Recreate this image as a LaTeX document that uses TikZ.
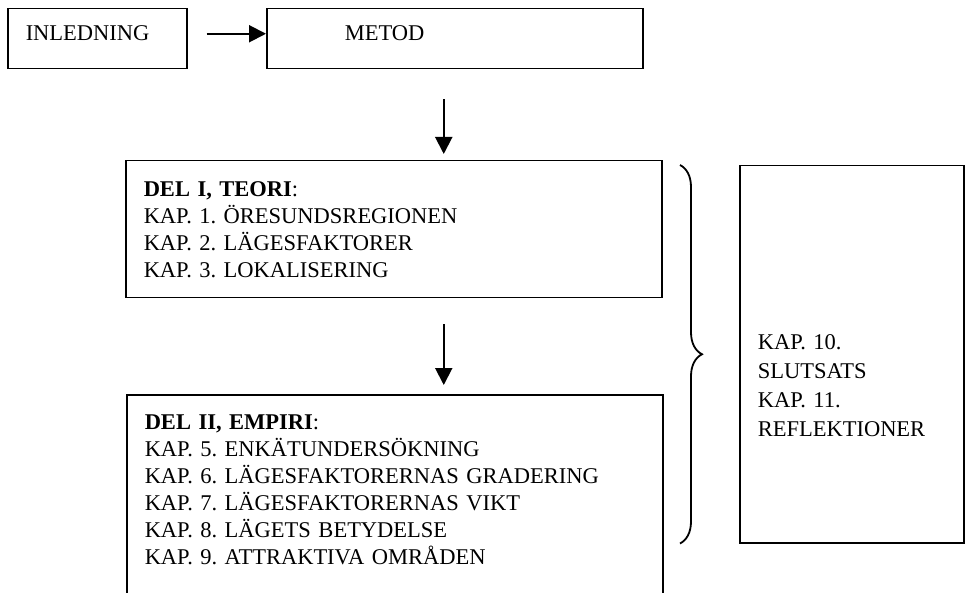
\documentclass[tikz,border=0pt]{standalone}
\usepackage{fontspec}
\setmainfont{Liberation Serif}
\frenchspacing
\usetikzlibrary{arrows.meta,decorations.pathreplacing}

\begin{document}
\begin{tikzpicture}[x=1pt,y=-1pt,
  box/.style={draw,line width=1.5pt,anchor=north west,align=left,inner xsep=18pt,inner ysep=0pt,font=\fontsize{22.5}{27}\selectfont},
  arr/.style={line width=2pt,-{Triangle[length=17pt,width=17pt]}}]
\useasboundingbox (0,0) rectangle (966,593);
\clip (0,0) rectangle (966,593);
% top row
\node[box,text width=143pt,minimum height=60pt,text depth=11pt] (inledning) at (7,8) {INLEDNING};
\node[box,inner xsep=78pt,text width=220pt,minimum height=60pt,text depth=11pt] (metod) at (266,8) {METOD};
\draw[arr] ([xshift=19pt,yshift=5pt]inledning.east) -- ([yshift=5pt]metod.west);
% the two parts
\node[box,text width=500pt,minimum height=137pt] (teori) at (125,160)
  {\textbf{DEL I, TEORI}:\\KAP. 1. ÖRESUNDSREGIONEN\\KAP. 2. LÄGESFAKTORER\\KAP. 3. LOKALISERING};
\node[box,text width=500pt,inner ysep=20pt,text depth=175pt] (empiri) at (126,394)
  {\textbf{DEL II, EMPIRI}:\\KAP. 5. ENKÄTUNDERSÖKNING\\KAP. 6. LÄGESFAKTORERNAS GRADERING\\KAP. 7. LÄGESFAKTORERNAS VIKT\\KAP. 8. LÄGETS BETYDELSE\\KAP. 9. ATTRAKTIVA OMRÅDEN};
\coordinate (m1) at ([xshift=-11pt,yshift=-30pt]metod.south);
\draw[arr,shorten >=6pt] (m1) -- (m1 |- teori.north);
\coordinate (t1) at ([xshift=50pt,yshift=-26pt]teori.south);
\draw[arr,shorten >=9pt] (t1) -- (t1 |- empiri.north);
% conclusions
\node[box,text width=188pt,minimum height=377pt,text height=77pt,font=\fontsize{22.5}{29}\selectfont] (slutsats) at (739,165)
  {KAP. 10.\\SLUTSATS\\KAP. 11.\\REFLEKTIONER};
\draw[line width=1.8pt,decorate,decoration={brace,amplitude=22pt}]
  ([xshift=-59pt]slutsats.north west) -- ([xshift=-59pt]slutsats.south west);
\end{tikzpicture}
\end{document}
